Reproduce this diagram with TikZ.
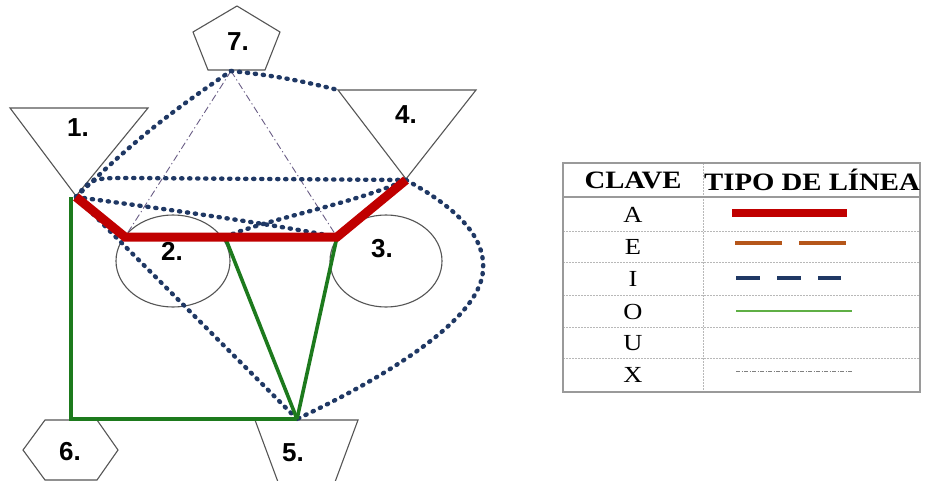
\documentclass[tikz,border=0pt]{standalone}
\usepackage{fontspec}
\setmainfont{Liberation Serif}
\newfontfamily\lblfont{Liberation Sans}
\definecolor{redA}{HTML}{C00000}
\definecolor{greenO}{HTML}{1D7A1D}
\definecolor{navyI}{HTML}{1F3864}
\definecolor{brownE}{HTML}{B5561A}
\definecolor{lgreen}{HTML}{5FAF45}
\definecolor{dashX}{HTML}{6B5E86}
\definecolor{shapegray}{HTML}{555555}
\definecolor{tablegray}{HTML}{9A9A9A}
\begin{document}
\begin{tikzpicture}[x=1pt,y=-1pt,
  shapeline/.style={draw=shapegray,line width=1.1pt,line join=miter},
  lbl/.style={font=\lblfont\bfseries\fontsize{26}{26}\selectfont,inner sep=0pt},
  relA/.style={draw=redA,line width=9pt,line join=miter},
  relO/.style={draw=greenO,line width=3.6pt},
  relI/.style={draw=navyI,line width=4.4pt,line cap=round,dash pattern=on 1.2pt off 6.8pt},
  relX/.style={draw=dashX,line width=0.9pt,dash pattern=on 7pt off 3pt on 1.2pt off 3pt},
  hdr/.style={font=\bfseries\fontsize{25}{25}\selectfont,xscale=1.15,transform shape,inner sep=0pt},
  key/.style={font=\fontsize{23}{23}\selectfont,xscale=1.15,transform shape,inner sep=0pt},
  rowline/.style={draw=tablegray!70,line width=0.8pt,dash pattern=on 2pt off 1pt},
]
\useasboundingbox (0,0) rectangle (925,481);
\fill[white] (0,0) rectangle (925,481);

% ---- shapes ----
\draw[shapeline] (10,108) -- (148,108) -- (76,196) -- cycle;
\draw[shapeline] (338,90) -- (476,90) -- (406,179) -- cycle;
\draw[shapeline] (237,6) -- (280,32) -- (265,70) -- (208,70) -- (193,32) -- cycle;
\draw[shapeline] (173,261) ellipse [x radius=57,y radius=46];
\draw[shapeline] (386,261) ellipse [x radius=56,y radius=46];
\draw[shapeline] (23,450) -- (45,420) -- (97,420) -- (118,450) -- (97,480) -- (45,480) -- cycle;
\draw[shapeline] (255,420) -- (358,420) -- (335,482) -- (278,482) -- cycle;

\node[lbl] (n1) at (78,128) {1.};
\node[lbl] (n4) at (406,115) {4.};
\node[lbl] (n7) at (238,42) {7.};
\node[lbl] (n2) at (172,251) {2.};
\node[lbl] (n3) at (382,249) {3.};
\node[lbl] (n6) at (70,452) {6.};
\node[lbl] (n5) at (293,453) {5.};

% ---- connection points ----
\coordinate (p1) at (76,197);
\coordinate (g1) at (71,197);
\coordinate (p4) at (406,180);
\coordinate (p7) at (231,71);
\coordinate (p4c) at (338,90);
\coordinate (b2) at (125,237);
\coordinate (q2) at (225,237);
\coordinate (p3) at (337,237);
\coordinate (p5) at (297,419);
\coordinate (p6) at (71,419);
\coordinate (h1) at (130,178);
\coordinate (bulge) at (483,270);

% ---- X lines ----
\draw[relX] (p7) -- (b2);
\draw[relX] (p7) -- (p3);

% ---- I (dotted) lines ----
\draw[relI] (p1) to[bend left=5] (p7);
\draw[relI] (p7) to[bend left=4] (p4c);
\draw[relI] (p1) .. controls (92,178) .. (h1) -- (p4);
\draw[relI] (p1) .. controls (150,207) and (260,222) .. (p3);
\draw[relI] (q2) .. controls (270,218) and (350,205) .. (p4);
\draw[relI] (p1) -- (p5);
\draw[relI] (p4) .. controls (470,215) and (485,245) .. (bulge)
                 .. controls (481,320) and (380,380) .. (p5);

% ---- O (green) lines ----
\draw[relO] (g1) -- (p6) -- (p5);
\draw[relO] (q2) -- (p5);
\draw[relO] (p3) -- (p5);

% ---- A (red) line ----
\draw[relA] (p1) -- (b2) -- (p3) -- (p4);

% ---- legend table ----
\draw[rowline] (563,231) -- (920,231);
\draw[rowline] (563,262) -- (920,262);
\draw[rowline] (563,295) -- (920,295);
\draw[rowline] (563,327) -- (920,327);
\draw[rowline] (563,358) -- (920,358);
\draw[rowline] (703,163) -- (703,392);
\draw[draw=tablegray,line width=2pt] (563,197) -- (920,197);
\draw[draw=tablegray,line width=1.3pt] (563,163) rectangle (920,392);

\node[hdr] (hclave) at (633,180) {CLAVE};
\node[hdr] (htipo) at (812,180) {TIPO DE LÍNEA};
\node[key] (kA) at (633,215) {A};
\node[key] (kE) at (633,247) {E};
\node[key] (kI) at (633,279) {I};
\node[key] (kO) at (633,312) {O};
\node[key] (kU) at (633,343) {U};
\node[key] (kX) at (633,375) {X};

\coordinate (aL) at (732,213); \coordinate (aR) at (847,213);
\coordinate (eL) at (735,243); \coordinate (eR) at (847,243);
\coordinate (iL) at (736,278); \coordinate (iR) at (841,278);
\coordinate (oL) at (736,311); \coordinate (oR) at (852,311);
\coordinate (xL) at (736,371); \coordinate (xR) at (852,371);
\draw[draw=redA,line width=8pt] (aL) -- (aR);
\draw[draw=brownE,line width=3.8pt,dash pattern=on 47pt off 17pt] (eL) -- (eR);
\draw[draw=navyI,line width=4pt,dash pattern=on 24pt off 17pt] (iL) -- (iR);
\draw[draw=lgreen,line width=1.4pt] (oL) -- (oR);
\draw[draw=gray,line width=0.8pt,dash pattern=on 4pt off 1.5pt on 1pt off 1.5pt] (xL) -- (xR);
\end{tikzpicture}
\end{document}
